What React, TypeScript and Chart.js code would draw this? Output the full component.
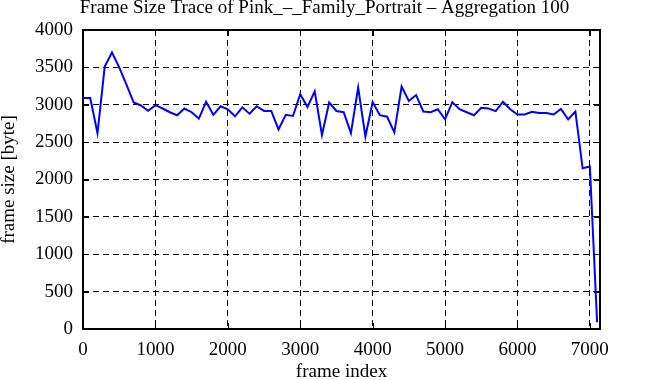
import React, { useEffect, useRef } from "react";
import { Chart, registerables } from "chart.js";

Chart.register(...registerables);

const titleText = "Frame Size Trace of Pink_\u2013_Family_Portrait \u2013 Aggregation 100";
const xTitle = "frame index";
const yTitle = "frame size [byte]";

const frameIndex = [
  0, 100, 200, 300, 400, 500, 600, 700, 800, 900,
  1000, 1100, 1200, 1300, 1400, 1500, 1600, 1700, 1800, 1900,
  2000, 2100, 2200, 2300, 2400, 2500, 2600, 2700, 2800, 2900,
  3000, 3100, 3200, 3300, 3400, 3500, 3600, 3700, 3800, 3900,
  4000, 4100, 4200, 4300, 4400, 4500, 4600, 4700, 4800, 4900,
  5000, 5100, 5200, 5300, 5400, 5500, 5600, 5700, 5800, 5900,
  6000, 6100, 6200, 6300, 6400, 6500, 6600, 6700, 6800, 6900,
  7000, 7100,
];

const frameSize = [
  3090, 3090, 2620, 3510, 3700, 3500, 3270, 3030, 2990, 2920,
  2995, 2950, 2900, 2860, 2950, 2900, 2815, 3040, 2865, 2980,
  2940, 2845, 2965, 2880, 2980, 2917, 2917, 2670, 2865, 2850,
  3140, 2970, 3180, 2595, 3030, 2917, 2900, 2620, 3230, 2575,
  3035, 2860, 2840, 2630, 3245, 3050, 3130, 2910, 2900, 2940,
  2805, 3035, 2940, 2900, 2860, 2960, 2950, 2915, 3040, 2940,
  2870, 2870, 2905, 2890, 2890, 2870, 2945, 2805, 2910, 2150,
  2175, 90,
];

const xTickValues = [0, 1000, 2000, 3000, 4000, 5000, 6000, 7000];
const yTickValues = [0, 500, 1000, 1500, 2000, 2500, 3000, 3500, 4000];

const xMin = 0;
const xMax = 7140;
const yMin = 0;
const yMax = 4000;

const FONT = "'Liberation Serif', 'Times New Roman', Times, serif";

const framePlugin = {
  id: "gnuplotFrame",
  beforeDatasetsDraw(chart: any) {
    const { ctx, chartArea: a, scales } = chart;
    const xs = scales.x;
    const ys = scales.y;
    ctx.save();
    ctx.strokeStyle = "#000";
    ctx.lineWidth = 1;
    ctx.beginPath();
    xs.ticks.forEach((t: any) => {
      const px = Math.round(xs.getPixelForValue(t.value)) + 0.5;
      ctx.moveTo(px, a.bottom);
      ctx.lineTo(px, a.bottom - 6);
      ctx.moveTo(px, a.top);
      ctx.lineTo(px, a.top + 6);
    });
    ys.ticks.forEach((t: any) => {
      const py = Math.round(ys.getPixelForValue(t.value)) + 0.5;
      ctx.moveTo(a.left, py);
      ctx.lineTo(a.left + 6, py);
      ctx.moveTo(a.right, py);
      ctx.lineTo(a.right - 6, py);
    });
    ctx.stroke();
    ctx.lineWidth = 2;
    ctx.strokeRect(a.left, a.top, a.right - a.left, a.bottom - a.top);
    ctx.restore();
  },
};

export default function App() {
  const ref = useRef<HTMLCanvasElement | null>(null);

  useEffect(() => {
    if (!ref.current) return;
    const points = frameIndex.map((f, i) => ({ x: f, y: frameSize[i] }));
    const chart = new Chart(ref.current, {
      type: "line",
      data: {
        datasets: [
          {
            data: points,
            borderColor: "#0000ff",
            borderWidth: 2,
            pointRadius: 0,
            tension: 0,
            fill: false,
            yAxisID: "y",
            xAxisID: "x",
          },
        ],
      },
      options: {
        animation: false,
        responsive: false,
        layout: { padding: { left: 0, right: 0, top: 0, bottom: 0 } },
        plugins: {
          legend: { display: false },
          tooltip: { enabled: false },
          title: {
            display: true,
            text: titleText,
            color: "#000",
            font: { family: FONT, size: 19, weight: "normal", lineHeight: 1 },
            padding: { top: -1, bottom: 12 },
          },
        },
        scales: {
          x: {
            type: "linear",
            min: xMin,
            max: xMax,
            afterFit: (s: any) => {
              s.height = 51;
            },
            afterBuildTicks: (s: any) => {
              s.ticks = xTickValues.map((v) => ({ value: v }));
            },
            ticks: {
              color: "#000",
              padding: 10,
              maxRotation: 0,
              autoSkip: false,
              font: { family: FONT, size: 19 },
              callback: (v: any) => String(v),
            },
            grid: {
              color: "#000",
              lineWidth: 1,
              drawTicks: false,
            },
            border: { display: false, dash: [6, 4] },
            title: {
              display: true,
              text: xTitle,
              color: "#000",
              font: { family: FONT, size: 19, lineHeight: 1 },
              padding: { top: 0, bottom: -2 },
            },
          },
          y: {
            type: "linear",
            position: "left",
            min: yMin,
            max: yMax,
            afterFit: (s: any) => {
              s.width = 83;
            },
            afterBuildTicks: (s: any) => {
              s.ticks = yTickValues.map((v) => ({ value: v }));
            },
            ticks: {
              color: "#000",
              padding: 10,
              autoSkip: false,
              font: { family: FONT, size: 19 },
              callback: (v: any) => String(v),
            },
            grid: {
              color: "#000",
              lineWidth: 1,
              drawTicks: false,
            },
            border: { display: false, dash: [6, 4] },
            title: {
              display: true,
              text: yTitle,
              color: "#000",
              font: { family: FONT, size: 19, lineHeight: 1 },
              padding: { top: 0, bottom: 0 },
            },
          },
          yRight: {
            type: "linear",
            position: "right",
            display: true,
            afterFit: (s: any) => {
              s.width = 49;
            },
            ticks: { display: false },
            grid: { display: false },
            border: { display: false },
          },
        },
      },
      plugins: [framePlugin],
    });
    return () => chart.destroy();
  }, []);

  return (
    <div style={{ position: "absolute", left: 0, top: 0, width: 649, height: 380, background: "#fff" }}>
      <canvas ref={ref} width={649} height={380} />
    </div>
  );
}
